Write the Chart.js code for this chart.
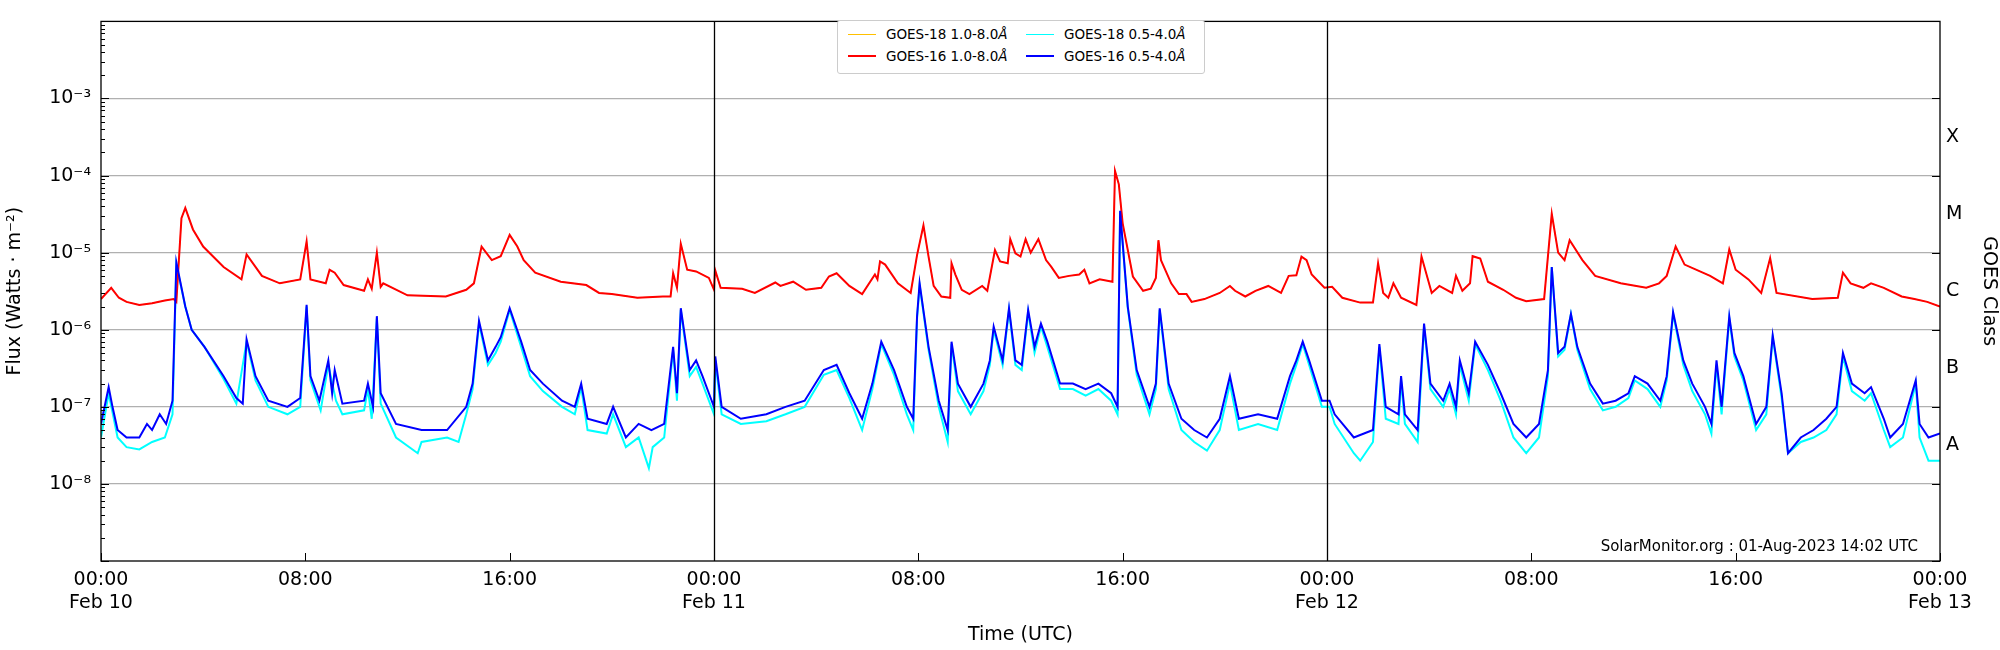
<!DOCTYPE html>
<html><head><meta charset="utf-8">
<script src="https://cdn.jsdelivr.net/npm/chart.js@4"></script>
<style>
body{margin:0;background:#fff;font-family:"DejaVu Sans",sans-serif}
#wrap{position:relative;width:2000px;height:650px}
#legend{position:absolute;left:837px;top:20px;width:366px;height:52px;border:1px solid #ccc;border-radius:3px;background:#fff;font-size:13.5px;color:#000}
.it{position:absolute;display:flex;align-items:center;white-space:nowrap}
.sw{display:inline-block;width:28px;margin-right:10px}
</style></head><body>
<div id="wrap"><canvas id="c" width="2000" height="650"></canvas>
<div id="legend">
<div class="it" style="left:10px;top:5px"><span class="sw" style="border-top:1.5px solid #ffc000"></span>GOES-18 1.0-8.0<i>Å</i></div>
<div class="it" style="left:10px;top:27px"><span class="sw" style="border-top:2px solid #ff0000"></span>GOES-16 1.0-8.0<i>Å</i></div>
<div class="it" style="left:188px;top:5px"><span class="sw" style="border-top:1.5px solid #00ffff"></span>GOES-18 0.5-4.0<i>Å</i></div>
<div class="it" style="left:188px;top:27px"><span class="sw" style="border-top:2px solid #0000ff"></span>GOES-16 0.5-4.0<i>Å</i></div>
</div></div>
<script>
const xTicks=[0,8,16,24,32,40,48,56,64,72];
const xTickLabels=[["00:00","Feb 10"],"08:00","16:00",["00:00","Feb 11"],"08:00","16:00",["00:00","Feb 12"],"08:00","16:00",["00:00","Feb 13"]];
const yTicks=[1e-8,1e-7,1e-6,1e-5,1e-4,1e-3];
const yTickLabels=["10⁻⁸","10⁻⁷","10⁻⁶","10⁻⁵","10⁻⁴","10⁻³"];
const classTicks=[3.16e-8,3.16e-7,3.16e-6,3.16e-5,3.16e-4];
const classLabels=["A","B","C","M","X"];

const redT=[0,0.4,0.7,1,1.5,2,2.5,2.85,2.95,3.15,3.3,3.6,4,4.8,5.5,5.7,6.3,7,7.8,8.05,8.2,8.8,8.95,9.15,9.5,10.3,10.45,10.6,10.8,10.95,11.05,12,13.5,14.3,14.6,14.9,15.3,15.65,16,16.3,16.55,17,18,19,19.5,20,21,22,22.3,22.4,22.55,22.7,22.95,23.3,23.8,24,24.04,24.26,25.1,25.6,26.4,26.6,27.1,27.6,28.2,28.5,28.8,29.3,29.8,30.3,30.4,30.5,30.7,31.2,31.7,31.95,32.2,32.4,32.6,32.9,33.25,33.3,33.45,33.7,34,34.5,34.7,35,35.2,35.5,35.6,35.8,36,36.2,36.4,36.7,37,37.2,37.5,37.9,38.3,38.5,38.7,39.1,39.6,39.7,39.85,40,40.4,40.8,41.1,41.3,41.4,41.5,41.9,42.2,42.5,42.7,43.2,43.8,44.2,44.4,44.8,45.2,45.7,46.2,46.5,46.8,47,47.2,47.4,47.9,48.2,48.6,49.3,49.8,50,50.2,50.4,50.6,50.9,51.5,51.7,52.1,52.4,52.9,53.05,53.3,53.6,53.7,54,54.3,54.9,55.4,55.8,56.5,56.8,57.05,57.3,57.5,58,58.5,59.5,60.5,61,61.3,61.65,62,63,63.5,63.75,64,64.5,65,65.35,65.6,67,68,68.2,68.5,69,69.3,69.8,70.5,71,71.5,72];
const redV=[2.5e-6,3.5e-6,2.6e-6,2.3e-6,2.1e-6,2.2e-6,2.4e-6,2.5e-6,2.3e-6,2.8e-5,3.8e-5,2e-5,1.2e-5,6.5e-6,4.5e-6,9.5e-6,5e-6,4e-6,4.5e-6,1.4e-5,4.5e-6,4e-6,6e-6,5.5e-6,3.8e-6,3.2e-6,4.5e-6,3.4e-6,1e-5,3.6e-6,4e-6,2.8e-6,2.7e-6,3.3e-6,4e-6,1.2e-5,8e-6,9e-6,1.7e-5,1.2e-5,8e-6,5.5e-6,4.2e-6,3.8e-6,3e-6,2.9e-6,2.6e-6,2.7e-6,2.7e-6,5.4e-6,3.5e-6,1.3e-5,6e-6,5.7e-6,4.7e-6,3.3e-6,6e-6,3.5e-6,3.4e-6,3e-6,4.1e-6,3.7e-6,4.2e-6,3.3e-6,3.5e-6,4.9e-6,5.4e-6,3.7e-6,2.9e-6,5.2e-6,4.5e-6,7.7e-6,7e-6,4e-6,3e-6,9.3e-6,2.26e-5,8.9e-6,3.7e-6,2.7e-6,2.6e-6,7.3e-6,5.2e-6,3.3e-6,2.9e-6,3.7e-6,3.2e-6,1.08e-5,7.7e-6,7.3e-6,1.5e-5,9.8e-6,8.9e-6,1.5e-5,1e-5,1.5e-5,8e-6,6.6e-6,4.7e-6,5e-6,5.2e-6,6e-6,4e-6,4.5e-6,4.2e-6,1.15e-4,7.7e-5,2.4e-5,4.9e-6,3.2e-6,3.4e-6,4.7e-6,1.45e-5,8e-6,4e-6,2.9e-6,2.9e-6,2.3e-6,2.5e-6,3e-6,3.7e-6,3.2e-6,2.7e-6,3.2e-6,3.7e-6,3e-6,5e-6,5.1e-6,8.9e-6,8e-6,5.2e-6,3.5e-6,3.6e-6,2.6e-6,2.25e-6,2.25e-6,7.3e-6,3e-6,2.6e-6,4e-6,2.6e-6,2.1e-6,8.9e-6,3e-6,3.7e-6,3e-6,5e-6,3.2e-6,4e-6,9e-6,8.4e-6,4.2e-6,3.3e-6,2.6e-6,2.35e-6,2.5e-6,3.2e-5,1e-5,8e-6,1.45e-5,8e-6,5e-6,4e-6,3.5e-6,4e-6,5e-6,1.2e-5,7e-6,5e-6,4e-6,1.1e-5,6e-6,4.5e-6,3e-6,8.5e-6,3e-6,2.5e-6,2.6e-6,5.5e-6,4e-6,3.5e-6,4e-6,3.5e-6,2.7e-6,2.5e-6,2.3e-6,2e-6];

const blueT=[0,0.3,0.45,0.65,1,1.5,1.8,2,2.3,2.55,2.8,2.95,3.3,3.55,4.05,4.8,5.3,5.55,5.7,6.05,6.55,7.3,7.8,8.05,8.2,8.55,8.9,9.05,9.15,9.45,10.3,10.45,10.65,10.8,10.95,11.55,12.55,13.55,14.3,14.55,14.8,15.15,15.45,15.65,16,16.45,16.8,17.3,18.05,18.55,18.8,19.05,19.8,20.05,20.55,21.05,21.55,22.05,22.4,22.55,22.7,23.05,23.3,23.55,23.8,24,24.05,24.3,25.05,26.05,26.8,27.55,28.3,28.8,29.3,29.8,30.2,30.55,31.05,31.55,31.8,31.95,32.05,32.4,32.8,33.15,33.3,33.55,34.05,34.55,34.8,34.95,35.3,35.55,35.8,36.05,36.3,36.55,36.8,37.05,37.55,38.05,38.55,39.05,39.55,39.8,39.9,40.2,40.55,41.05,41.3,41.45,41.8,42.3,42.8,43.3,43.8,44.2,44.55,45.3,46.05,46.55,46.8,47.05,47.3,47.8,48.1,48.3,49.05,49.8,50.05,50.3,50.8,50.9,51.05,51.55,51.8,52.05,52.55,52.8,53.05,53.2,53.55,53.8,54.3,54.8,55.3,55.8,56.3,56.65,56.8,57.05,57.3,57.55,57.8,58.3,58.8,59.3,59.8,60.05,60.55,61.05,61.3,61.55,61.95,62.3,62.8,63.05,63.25,63.45,63.75,63.95,64.3,64.8,65.2,65.45,65.8,66.05,66.55,67.05,67.55,67.95,68.2,68.55,69.05,69.3,69.8,70.05,70.55,71.05,71.2,71.55,72];
const blueV=[6e-8,1.8e-7,1e-7,5e-8,4e-8,4e-8,6e-8,5e-8,8e-8,6e-8,1.2e-7,7.5e-6,2e-6,1e-6,6e-7,2.5e-7,1.3e-7,1.1e-7,7.5e-7,2.5e-7,1.2e-7,1e-7,1.3e-7,2.1e-6,2.5e-7,1.2e-7,4e-7,1.5e-7,3e-7,1.1e-7,1.2e-7,2e-7,1e-7,1.5e-6,1.5e-7,6e-8,5e-8,5e-8,1e-7,2e-7,1.3e-6,4e-7,6e-7,8e-7,1.9e-6,7e-7,3e-7,2e-7,1.2e-7,1e-7,2e-7,7e-8,6e-8,1e-7,4e-8,6e-8,5e-8,6e-8,6e-7,1.5e-7,1.9e-6,3e-7,4e-7,2.5e-7,1.5e-7,1e-7,4.5e-7,1e-7,7e-8,8e-8,1e-7,1.2e-7,3e-7,3.5e-7,1.5e-7,7e-8,2e-7,7e-7,3e-7,1e-7,7e-8,1.5e-6,4e-6,6e-7,1.2e-7,5e-8,7e-7,2e-7,1e-7,2e-7,4e-7,1.1e-6,4e-7,1.9e-6,4e-7,3.5e-7,1.8e-6,6e-7,1.2e-6,7e-7,2e-7,2e-7,1.7e-7,2e-7,1.5e-7,1e-7,3.5e-5,2e-6,3e-7,1e-7,2e-7,1.9e-6,2e-7,7e-8,5e-8,4e-8,7e-8,2.5e-7,7e-8,8e-8,7e-8,2.5e-7,4e-7,7e-7,4e-7,1.2e-7,1.2e-7,8e-8,4e-8,5e-8,6.5e-7,1e-7,8e-8,2.5e-7,8e-8,5e-8,1.2e-6,2e-7,1.2e-7,2e-7,1e-7,4e-7,1.5e-7,7e-7,3.5e-7,1.5e-7,6e-8,4e-8,6e-8,3e-7,6.5e-6,5e-7,6e-7,1.6e-6,6e-7,2e-7,1.1e-7,1.2e-7,1.5e-7,2.5e-7,2e-7,1.2e-7,2.5e-7,1.7e-6,4e-7,2e-7,1e-7,6e-8,4e-7,1e-7,1.5e-6,5e-7,2.5e-7,6e-8,1e-7,8.5e-7,1.5e-7,2.5e-8,4e-8,5e-8,7e-8,1e-7,5e-7,2e-7,1.5e-7,1.8e-7,7e-8,4e-8,6e-8,2.2e-7,6e-8,4e-8,4.5e-8];

const cyanT=[0,0.3,0.65,1,1.5,2,2.5,2.8,2.95,3.3,3.55,4.05,4.8,5.3,5.7,6.05,6.55,7.3,7.8,8.05,8.2,8.6,8.9,9.2,9.45,10.3,10.45,10.6,10.8,10.95,11.55,12.4,12.55,13.55,14,14.3,14.55,14.8,15.15,15.45,15.65,16,16.45,16.8,17.3,18.05,18.55,18.8,19.05,19.8,20.05,20.55,21.05,21.45,21.6,22.05,22.4,22.55,22.7,23.05,23.3,23.55,23.8,24,24.05,24.3,25.05,26.05,26.8,27.55,28.3,28.8,29.3,29.8,30.2,30.55,31.05,31.55,31.8,31.95,32.05,32.4,32.8,33.15,33.3,33.55,34.05,34.55,34.8,34.95,35.3,35.55,35.8,36.05,36.3,36.55,36.8,37.05,37.55,38.05,38.55,39.05,39.55,39.8,39.9,40.2,40.55,41.05,41.3,41.45,41.8,42.3,42.8,43.3,43.8,44.2,44.55,45.3,46.05,46.55,46.8,47.05,47.3,47.8,48.1,48.3,49.05,49.3,49.8,50.05,50.3,50.8,50.9,51.05,51.55,51.8,52.05,52.55,52.8,53.05,53.2,53.55,53.8,54.3,54.8,55.3,55.8,56.3,56.65,56.8,57.05,57.3,57.55,57.8,58.3,58.8,59.3,59.8,60.05,60.55,61.05,61.3,61.55,61.95,62.3,62.8,63.05,63.25,63.45,63.75,63.95,64.3,64.8,65.2,65.45,65.8,66.05,66.55,67.05,67.55,67.95,68.2,68.55,69.05,69.3,69.8,70.05,70.55,71.05,71.2,71.55,72];
const cyanV=[4e-8,1.5e-7,4e-8,3e-8,2.8e-8,3.5e-8,4e-8,8e-8,7e-6,2e-6,1e-6,6e-7,2.3e-7,1.1e-7,7e-7,2.2e-7,1e-7,8e-8,1e-7,2e-6,2.2e-7,9e-8,3.5e-7,1.2e-7,8e-8,9e-8,1.7e-7,7e-8,1.4e-6,1.1e-7,4e-8,2.5e-8,3.5e-8,4e-8,3.5e-8,8e-8,1.7e-7,1.2e-6,3.5e-7,5e-7,7e-7,1.8e-6,6e-7,2.5e-7,1.6e-7,1e-7,8e-8,1.8e-7,5e-8,4.5e-8,8e-8,3e-8,4e-8,1.6e-8,3e-8,4e-8,5.5e-7,1.2e-7,1.8e-6,2.5e-7,3.3e-7,2e-7,1.2e-7,8e-8,4e-7,8e-8,6e-8,6.5e-8,8e-8,1e-7,2.6e-7,3e-7,1.3e-7,5e-8,1.7e-7,6.5e-7,2.6e-7,8e-8,5e-8,1.4e-6,3.8e-6,5.5e-7,1e-7,3.5e-8,6.5e-7,1.6e-7,8e-8,1.6e-7,3.5e-7,1e-6,3.5e-7,1.8e-6,3.5e-7,3e-7,1.7e-6,5e-7,1.1e-6,6e-7,1.7e-7,1.7e-7,1.4e-7,1.7e-7,1.2e-7,8e-8,3.3e-5,1.9e-6,2.6e-7,8e-8,1.7e-7,1.8e-6,1.7e-7,5e-8,3.5e-8,2.7e-8,5e-8,2e-7,5e-8,6e-8,5e-8,2e-7,3.5e-7,6.5e-7,3.5e-7,1e-7,1e-7,6e-8,2.5e-8,2e-8,3.5e-8,6e-7,7e-8,6e-8,2.2e-7,6e-8,3.5e-8,1.1e-6,1.7e-7,1e-7,1.7e-7,8e-8,3.5e-7,1.2e-7,6.5e-7,3e-7,1.2e-7,4e-8,2.5e-8,4e-8,2.5e-7,6.5e-6,4.5e-7,5.5e-7,1.6e-6,5.5e-7,1.7e-7,9e-8,1e-7,1.3e-7,2.2e-7,1.7e-7,1e-7,2.2e-7,1.6e-6,3.5e-7,1.6e-7,8e-8,4.5e-8,3.5e-7,8e-8,1.4e-6,4.5e-7,2.2e-7,5e-8,8e-8,8e-7,1.3e-7,2.5e-8,3.5e-8,4e-8,5e-8,8e-8,4.5e-7,1.6e-7,1.2e-7,1.5e-7,5e-8,3e-8,4e-8,2e-7,4e-8,2e-8,2e-8];

const pts=(t,v)=>t.map((x,i)=>({x,y:v[i]})).sort((a,b)=>a.x-b.x);
const FONT="'DejaVu Sans'";

const frame={id:'frame',afterDraw(ch){
  const {ctx,chartArea:a,scales}=ch; const y=scales.y, x=scales.x;
  ctx.save(); ctx.strokeStyle='#000'; ctx.lineWidth=1.3;
  [24,48].forEach(h=>{const px=Math.round(x.getPixelForValue(h))+0.5;ctx.beginPath();ctx.moveTo(px,a.top);ctx.lineTo(px,a.bottom);ctx.stroke();});
  ctx.strokeRect(a.left,a.top,a.right-a.left,a.bottom-a.top);
  ctx.lineWidth=1;
  for(let e=-9;e<=-2;e++){for(let m=1;m<10;m++){const v=m*Math.pow(10,e); if(v>1e-2) break;
    const py=Math.round(y.getPixelForValue(v))+0.5; const L=m===1?8:4;
    ctx.beginPath();ctx.moveTo(a.left,py);ctx.lineTo(a.left+L,py);ctx.stroke();
    if(m===1){ctx.beginPath();ctx.moveTo(a.right,py);ctx.lineTo(a.right-L,py);ctx.stroke();}}}
  xTicks.forEach(h=>{const px=Math.round(x.getPixelForValue(h))+0.5;ctx.beginPath();ctx.moveTo(px,a.bottom);ctx.lineTo(px,a.bottom-8);ctx.stroke();});
  ctx.fillStyle='#000';ctx.font="15px "+FONT;ctx.textAlign='right';ctx.textBaseline='alphabetic';
  ctx.fillText('SolarMonitor.org : 01-Aug-2023 14:02 UTC',a.right-22,a.bottom-10);
  ctx.restore();
}};

new Chart(document.getElementById('c'),{
  type:'line',
  data:{datasets:[
    {label:'GOES-16 0.5-4.0Å',data:pts(blueT,blueV),borderColor:'#0000ff',borderWidth:2,pointRadius:0,tension:0},
    {label:'GOES-16 1.0-8.0Å',data:pts(redT,redV),borderColor:'#ff0000',borderWidth:2,pointRadius:0,tension:0},
    {label:'GOES-18 0.5-4.0Å',data:pts(cyanT,cyanV),borderColor:'#00ffff',borderWidth:2,pointRadius:0,tension:0},
    {label:'GOES-18 1.0-8.0Å',data:pts(redT,redV),borderColor:'#ffc000',borderWidth:1,pointRadius:0,tension:0}
  ]},
  options:{responsive:false,animation:false,parsing:false,
    layout:{padding:{top:15}},
    plugins:{legend:{display:false},tooltip:{enabled:false}},
    scales:{
      x:{type:'linear',min:0,max:72,
        afterBuildTicks(s){s.ticks=xTicks.map(v=>({value:v}));},
        afterFit(s){s.height=89;},
        grid:{display:false,drawTicks:false},border:{display:false},
        ticks:{padding:8,color:'#000',font:{family:FONT,size:19},maxRotation:0,autoSkip:false,
          callback:(v,i)=>xTickLabels[i]},
        title:{display:true,text:'Time (UTC)',color:'#000',font:{family:FONT,size:19},padding:{top:2}}},
      y:{type:'logarithmic',position:'left',min:1e-9,max:1e-2,
        afterBuildTicks(s){s.ticks=yTicks.map(v=>({value:v}));},
        afterFit(s){s.width=101;},
        grid:{color:'#b0b0b0',lineWidth:1.3,drawTicks:false},border:{display:false},
        ticks:{padding:10,color:'#000',font:{family:FONT,size:19},callback:(v,i)=>yTickLabels[i]},
        title:{display:true,text:'Flux (Watts · m⁻²)',color:'#000',font:{family:FONT,size:19},padding:{bottom:0}}},
      y2:{type:'logarithmic',position:'right',min:1e-9,max:1e-2,
        afterBuildTicks(s){s.ticks=classTicks.map(v=>({value:v}));},
        afterFit(s){s.width=60;},
        grid:{display:false,drawTicks:false},border:{display:false},
        ticks:{padding:6,color:'#000',font:{family:FONT,size:19},callback:(v,i)=>classLabels[i]},
        title:{display:true,text:'GOES Class',color:'#000',font:{family:FONT,size:19},padding:{top:0}}}
    }},
  plugins:[frame]
});
</script></body></html>
